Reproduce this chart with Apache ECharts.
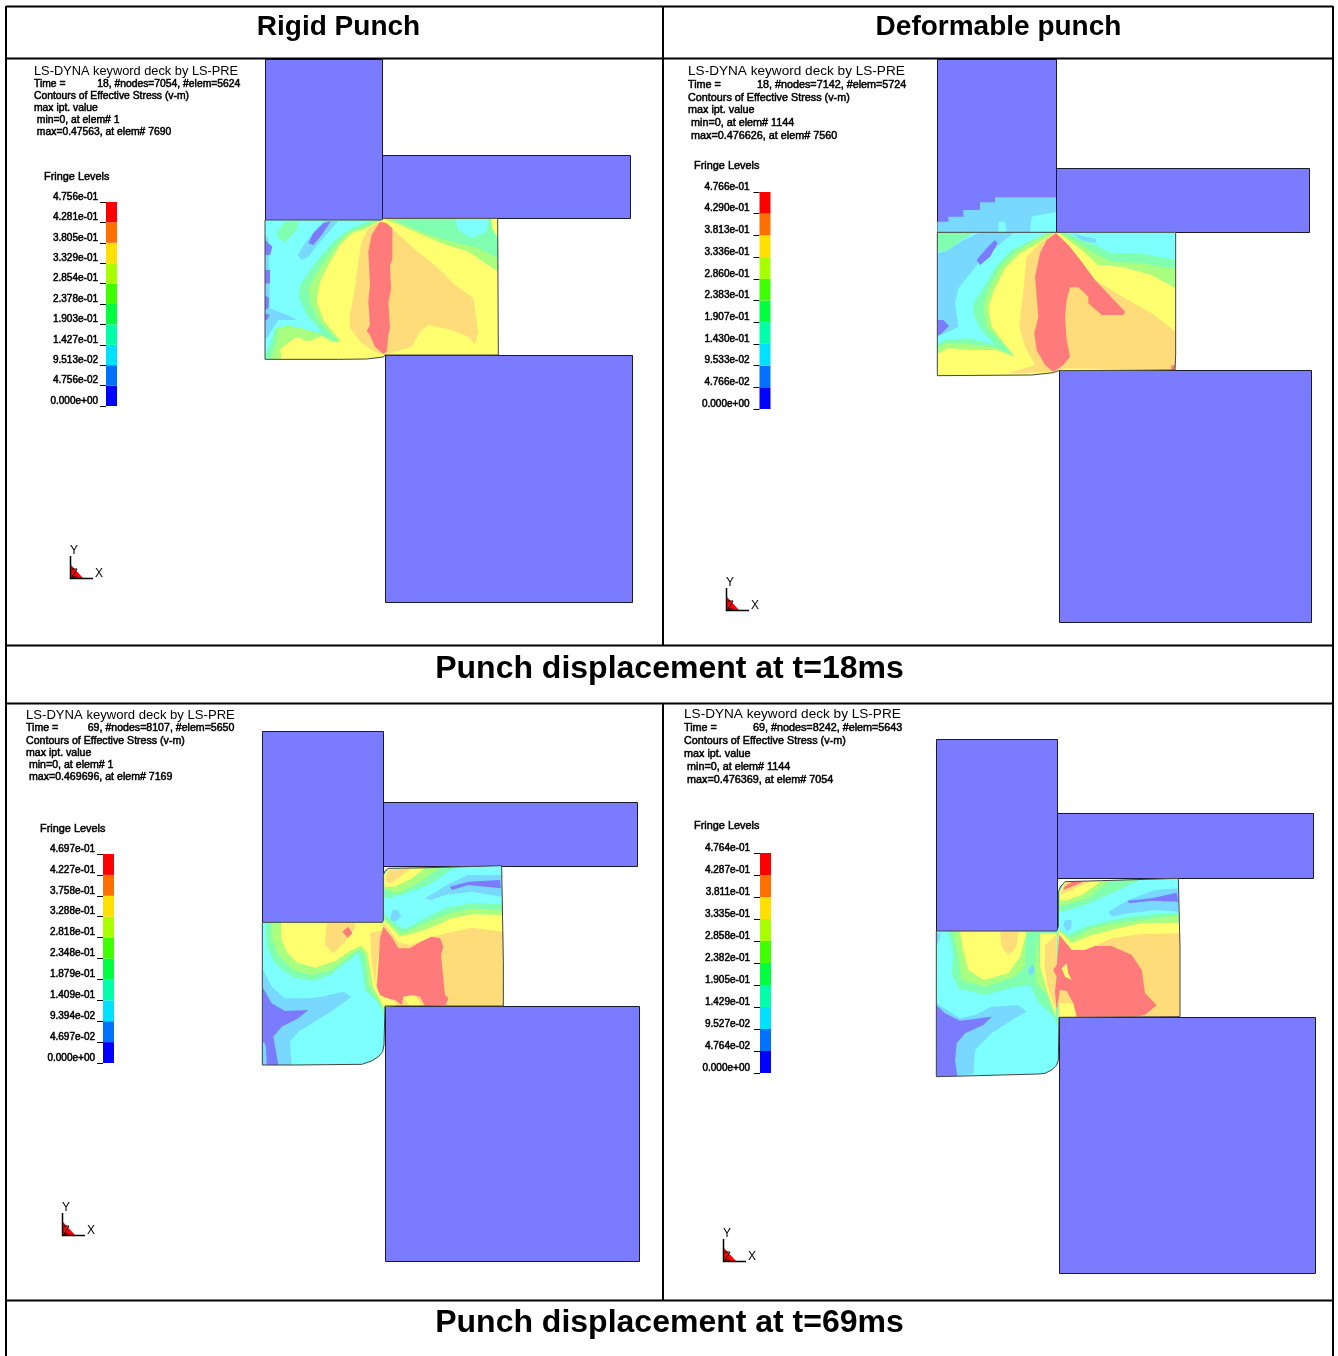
<!DOCTYPE html>
<html><head><meta charset="utf-8">
<style>html,body{margin:0;padding:0;background:#fff}#c{width:1338px;height:1356px}</style>
<script src="https://cdn.jsdelivr.net/npm/echarts@6/dist/echarts.min.js"></script>
</head><body><div id="c"></div>
<script>
// Fringe level bar colours and washed-out contour colours
const fringeColors=['#0000ff','#0070ff','#00e0ff','#00ffa8','#00ff40','#40ff00','#a8ff00','#ffe000','#ff7000','#ff0000'];
const LILAC=0,LBLUE=1,CYAN=2,MINT=3,LGREEN=4,YELLOW=5,PEACH=6,CORAL=7;
const contourColors=['#7b7bff','#78d8ff','#7dffff','#80ffb0','#a8ff80','#ffff70','#ffdc7a','#ff7a7a'];

const headings=['Rigid Punch','Deformable punch'];
const captions=['Punch displacement at t=18ms','Punch displacement at t=69ms'];

const ticksA=[0,0.04756,0.09513,0.1427,0.1903,0.2378,0.2854,0.3329,0.3805,0.4281,0.4756];
const ticksB=[0,0.04766,0.09533,0.1430,0.1907,0.2383,0.2860,0.3336,0.3813,0.4290,0.4766];
const ticksC=[0,0.04697,0.09394,0.1409,0.1879,0.2348,0.2818,0.3288,0.3758,0.4227,0.4697];
const ticksD=[0,0.04764,0.09527,0.1429,0.1905,0.2382,0.2858,0.3335,0.3811,0.4287,0.4764];

const infoA=['LS-DYNA keyword deck by LS-PRE','Time =           18, #nodes=7054, #elem=5624','Contours of Effective Stress (v-m)','max ipt. value',' min=0, at elem# 1',' max=0.47563, at elem# 7690'];
const infoB=['LS-DYNA keyword deck by LS-PRE','Time =            18, #nodes=7142, #elem=5724','Contours of Effective Stress (v-m)','max ipt. value',' min=0, at elem# 1144',' max=0.476626, at elem# 7560'];
const infoC=['LS-DYNA keyword deck by LS-PRE','Time =          69, #nodes=8107, #elem=5650','Contours of Effective Stress (v-m)','max ipt. value',' min=0, at elem# 1',' max=0.469696, at elem# 7169'];
const infoD=['LS-DYNA keyword deck by LS-PRE','Time =            69, #nodes=8242, #elem=5643','Contours of Effective Stress (v-m)','max ipt. value',' min=0, at elem# 1144',' max=0.476369, at elem# 7054'];

// Tool blocks: [x0,y0,x1,y1] on the sheet
const blocks=[
 [265,59,382,220],[382,155,630,218],[385,355,632,602],
 [937,59,1056,232],[1056,168,1309,232],[1059,370,1311,622],
 [262,731,383,922],[383,802,637,866],[385,1006,639,1261],
 [936,739,1057,931],[1057,813,1313,878],[1059,1017,1315,1273]];
const triadOrigins=[[70,578],[726,610],[62,1235],[723,1261]];

// Contour regions: [level, points...] painted in order
const outlineA=[[30,45],[380,45],[385,40],[728,40],[730,450],[390,450],[385,456],[335,462],[250,463],[30,463]];
const patchA=[
 [YELLOW,outlineA],
 [LGREEN,[[30,45],[380,45],[330,72],[290,85],[255,120],[225,170],[195,230],[185,290],[205,345],[258,410],[230,412],[200,393],[160,410],[125,395],[75,432],[80,461],[30,463]]],
 [MINT,[[30,45],[375,45],[320,68],[280,82],[245,118],[210,165],[178,215],[160,250],[165,290],[190,345],[250,410],[205,392],[140,370],[100,362],[70,365],[62,420],[50,450],[52,460],[30,463]]],
 [CYAN,[[30,45],[345,48],[290,70],[240,105],[200,150],[165,195],[135,240],[130,270],[155,330],[205,385],[140,370],[100,362],[60,370],[45,420],[30,450]]],
 [MINT,[[65,85],[90,50],[130,50],[125,75],[90,112],[70,100]]],
 [LBLUE,[[30,90],[40,100],[44,250],[44,310],[110,335],[125,345],[70,345],[35,400],[30,400]]],
 [LBLUE,[[128,150],[150,115],[185,70],[210,48],[250,48],[195,110],[160,155],[140,165]]],
 [LILAC,[[160,115],[175,85],[205,55],[228,48],[200,90],[175,120]]],
 [LILAC,[[30,105],[52,125],[45,150],[30,150]]],
 [LILAC,[[30,195],[45,195],[45,235],[30,235]]],
 [LILAC,[[30,270],[42,280],[40,310],[30,315]]],
 [LILAC,[[30,325],[45,330],[35,345],[30,345]]],
 [LGREEN,[[390,42],[728,42],[730,200],[640,140],[560,115],[470,75]]],
 [MINT,[[410,42],[728,42],[730,160],[660,125],[590,110],[510,85],[440,55]]],
 [CYAN,[[600,42],[700,42],[695,80],[650,100],[610,75]]],
 [YELLOW,[[708,42],[728,42],[728,100],[712,70]]],
 [PEACH,[[385,50],[415,75],[445,100],[470,125],[500,150],[540,180],[600,240],[655,280],[665,345],[670,380],[660,418],[640,395],[590,375],[520,360],[495,380],[470,425],[390,450],[360,440],[320,415],[285,370],[285,330],[300,250],[310,170],[320,110],[340,70],[375,50]]],
 [CORAL,[[375,50],[395,55],[412,70],[412,165],[405,180],[408,255],[400,290],[405,370],[400,390],[395,440],[385,447],[360,425],[345,390],[335,378],[345,360],[340,290],[345,240],[340,140],[350,90]]]
];
const outlineB=[[37,97],[393,97],[752,97],[752,465],[750,510],[400,512],[385,518],[320,525],[37,527]];
const patchB=[
 [LBLUE,[[37,65],[70,65],[70,50],[115,50],[115,30],[165,30],[165,7],[210,7],[210,-8],[393,-8],[393,97],[37,97]]],
 [CYAN,[[220,95],[220,65],[240,65],[245,95]]],
 [CYAN,[[315,95],[320,50],[393,35],[393,95]]],
 [YELLOW,outlineB],
 [LGREEN,[[37,97],[393,97],[330,135],[285,160],[240,205],[205,275],[190,325],[200,380],[268,470],[215,450],[140,450],[70,445],[37,462]]],
 [MINT,[[37,97],[375,97],[320,125],[270,155],[225,200],[190,270],[175,320],[185,380],[268,468],[210,440],[110,430],[60,430],[37,445]]],
 [CYAN,[[150,97],[370,97],[310,125],[260,150],[215,195],[175,265],[145,310],[145,340],[165,385],[210,435],[130,415],[60,420],[37,435],[37,155],[70,150],[110,120]]],
 [LBLUE,[[37,160],[70,150],[115,120],[160,100],[265,100],[215,140],[160,190],[100,265],[90,310],[100,380],[70,395],[37,410]]],
 [LILAC,[[37,360],[55,360],[72,378],[50,400],[37,408]]],
 [LILAC,[[155,180],[185,145],[210,120],[218,130],[195,170],[165,195]]],
 [LGREEN,[[400,97],[752,97],[752,265],[680,225],[590,200],[520,195],[470,150]]],
 [MINT,[[405,97],[752,97],[752,208],[650,190],[560,185],[510,160],[455,125]]],
 [CYAN,[[410,97],[752,97],[752,180],[650,160],[560,160],[500,130],[440,105]]],
 [LBLUE,[[440,100],[515,118],[510,130],[470,120]]],
 [PEACH,[[395,100],[420,130],[470,195],[510,240],[600,295],[680,340],[752,395],[752,465],[750,510],[420,505],[385,515],[250,520],[330,495],[300,440],[283,380],[295,270],[305,170],[345,130],[385,100]]],
 [CORAL,[[393,100],[430,135],[470,185],[510,240],[600,335],[595,345],[530,345],[490,310],[490,290],[460,262],[435,262],[425,300],[420,350],[425,420],[435,470],[415,495],[385,515],[360,495],[335,450],[328,400],[340,350],[330,230],[345,160],[365,120]]],
 [CORAL,[[738,497],[750,495],[750,510],[740,510]]]
];
const outlineC=[[22,202],[382,202],[385,195],[385,60],[390,48],[400,40],[520,38],[740,32],[745,320],[745,453],[390,453],[387,570],[383,590],[370,605],[350,618],[320,628],[120,630],[22,630]];
const patchC=[
 [CYAN,outlineC],
 [MINT,[[388,128],[388,60],[400,42],[600,35],[520,90],[440,120],[400,128]]],
 [LGREEN,[[388,105],[388,60],[400,42],[555,38],[495,80],[430,115]]],
 [YELLOW,[[388,95],[388,60],[400,42],[510,40],[470,70],[420,95]]],
 [PEACH,[[390,75],[400,45],[470,40],[430,70],[405,85]]],
 [LBLUE,[[510,130],[585,85],[640,60],[740,60],[740,125],[650,110],[570,120],[530,135]]],
 [LILAC,[[585,95],[640,80],[735,75],[738,100],[640,90],[590,105]]],
 [LBLUE,[[405,195],[412,165],[430,165],[438,185],[420,200]]],
 [MINT,[[388,175],[425,210],[450,222],[510,190],[570,160],[650,143],[742,148],[745,453],[388,453]]],
 [LGREEN,[[388,190],[440,235],[510,205],[580,175],[650,160],[742,165],[745,453],[388,453]]],
 [YELLOW,[[388,195],[435,245],[510,225],[590,190],[650,178],[743,180],[745,453],[388,453]]],
 [PEACH,[[388,205],[430,262],[465,270],[530,245],[650,218],[745,230],[745,453],[380,453]]],
 [MINT,[[32,202],[385,202],[388,485],[372,445],[330,405],[320,330],[310,295],[270,325],[225,360],[170,378],[110,365],[60,325],[35,275]]],
 [LGREEN,[[52,202],[385,202],[388,470],[372,440],[340,390],[330,300],[312,282],[275,310],[230,345],[170,360],[115,345],[70,300],[48,245]]],
 [YELLOW,[[78,202],[385,202],[388,453],[378,440],[352,390],[345,340],[335,290],[318,272],[285,288],[240,318],[180,338],[125,322],[95,290],[78,250]]],
 [PEACH,[[215,205],[300,205],[300,220],[270,260],[235,295],[210,270]]],
 [PEACH,[[345,235],[380,225],[365,330],[360,390],[350,320]]],
 [CORAL,[[262,230],[280,215],[292,235],[278,248]]],
 [CORAL,[[385,215],[410,245],[430,280],[465,280],[495,262],[530,245],[555,250],[565,275],[558,300],[570,420],[580,430],[572,450],[510,453],[495,425],[470,420],[445,425],[440,450],[420,435],[395,430],[375,420],[365,395],[370,330],[375,250]]],
 [YELLOW,[[445,425],[480,422],[500,450],[465,453]]],
 [YELLOW,[[380,435],[395,428],[420,440],[425,453],[385,455]]],
 [LBLUE,[[22,340],[50,395],[90,430],[160,430],[200,425],[265,410],[290,425],[235,465],[130,530],[105,560],[110,630],[60,630],[22,630]]],
 [LILAC,[[22,395],[50,445],[90,468],[160,465],[130,490],[80,515],[55,545],[70,630],[35,630],[30,565],[22,560]]],
 [LBLUE,[[22,565],[33,575],[35,620],[22,620]]]
];
const outlineD=[[34,183],[395,183],[400,170],[400,65],[408,48],[420,35],[530,32],[760,25],[765,230],[765,440],[402,442],[400,570],[395,585],[380,600],[360,610],[340,612],[120,618],[34,620]];
const patchD=[
 [CYAN,outlineD],
 [MINT,[[402,125],[402,65],[420,36],[650,28],[560,70],[480,105],[410,125]]],
 [LGREEN,[[403,105],[403,65],[420,36],[555,30],[490,85],[420,105]]],
 [YELLOW,[[405,90],[405,65],[420,36],[530,32],[470,75],[420,92]]],
 [PEACH,[[405,75],[420,38],[500,33],[440,60]]],
 [CORAL,[[418,50],[440,36],[475,35],[440,50],[415,60]]],
 [LBLUE,[[550,125],[610,90],[690,60],[760,55],[760,125],[690,120],[610,130],[560,140]]],
 [LILAC,[[608,92],[680,85],[755,68],[760,95],[680,92],[612,100]]],
 [LBLUE,[[415,165],[420,150],[440,150],[438,175],[425,185]]],
 [MINT,[[400,175],[430,195],[480,170],[560,150],[650,135],[760,128],[765,440],[400,440]]],
 [LGREEN,[[400,180],[440,205],[500,175],[570,160],[650,150],[760,135],[765,440],[400,440]]],
 [YELLOW,[[400,180],[440,220],[500,195],[580,175],[650,160],[762,158],[765,440],[400,440]]],
 [PEACH,[[400,190],[440,240],[480,240],[560,205],[650,192],[765,190],[765,440],[400,440]]],
 [MINT,[[70,185],[400,185],[400,470],[385,440],[340,395],[315,345],[270,350],[180,375],[100,355],[80,310],[85,250]]],
 [LGREEN,[[85,185],[335,185],[345,290],[370,380],[390,440],[365,375],[335,340],[325,260],[270,320],[180,350],[110,330],[100,260]]],
 [MINT,[[305,185],[335,185],[330,280],[335,345],[305,330],[300,260]]],
 [LBLUE,[[310,295],[325,285],[328,305],[315,318]]],
 [YELLOW,[[105,185],[305,185],[285,260],[250,310],[175,330],[130,300],[115,240]]],
 [PEACH,[[225,185],[280,185],[275,230],[250,255],[230,230]]],
 [YELLOW,[[345,190],[395,190],[392,440],[370,375],[345,290]]],
 [PEACH,[[360,225],[395,195],[392,420],[368,350],[360,300]]],
 [CORAL,[[403,195],[440,240],[480,240],[510,228],[560,228],[620,255],[650,300],[660,370],[695,405],[660,435],[630,440],[455,440],[440,395],[405,360],[395,420],[390,365],[395,320],[385,300],[395,285]]],
 [YELLOW,[[410,295],[425,280],[430,310],[440,330],[420,320]]],
 [PEACH,[[403,360],[425,362],[445,400],[415,400]]],
 [YELLOW,[[405,400],[445,400],[455,440],[405,440]]],
 [LBLUE,[[34,190],[48,190],[40,220],[34,222]]],
 [LBLUE,[[34,400],[105,445],[150,435],[200,410],[280,405],[305,425],[260,450],[200,490],[150,540],[145,612],[95,618],[34,620]]],
 [LILAC,[[34,405],[60,430],[105,452],[200,440],[175,465],[120,490],[95,520],[90,570],[97,618],[34,620]]]
];

const FONT='"Liberation Sans",Arial,sans-serif';
const grids=[],xAxes=[],yAxes=[],series=[],graphics=[];
function addGrid(rect,xr,yr,yInv){
  const i=grids.length;
  grids.push({left:rect[0],top:rect[1],width:rect[2],height:rect[3]});
  xAxes.push({type:'value',gridIndex:i,min:xr[0],max:xr[1],show:false});
  yAxes.push({type:'value',gridIndex:i,min:yr[0],max:yr[1],inverse:!!yInv,show:false});
  return i;
}
// main sheet
const sheet=addGrid([0,0,1338,1356],[0,1338],[0,1356],true);
series.push({type:'custom',xAxisIndex:sheet,yAxisIndex:sheet,z:2,silent:true,clip:false,
  data:blocks.map(b=>b.slice()),
  encode:{x:[0,2],y:[1,3]},
  renderItem(p,api){
    const a=api.coord([api.value(0),api.value(1)]),b=api.coord([api.value(2),api.value(3)]);
    return {type:'rect',shape:{x:a[0]+.5,y:a[1]+.5,width:b[0]-a[0],height:b[1]-a[1]},style:{fill:contourColors[LILAC],stroke:'#1a1a2e',lineWidth:1}};
  }});
// triads
series.push({type:'custom',xAxisIndex:sheet,yAxisIndex:sheet,z:2,silent:true,clip:false,
  data:triadOrigins.map(o=>o.slice()),
  encode:{x:0,y:1},
  renderItem(p,api){
    const ox=api.value(0),oy=api.value(1);
    const c=(dx,dy)=>api.coord([ox+dx,oy+dy]);
    return {type:'group',children:[
      {type:'polygon',shape:{points:[c(0,-14),c(13,0),c(0,0)]},style:{fill:'#ff0000'}},
      {type:'polyline',shape:{points:[c(2,-9),c(7,-9),c(2,-1),c(7,-1)]},style:{stroke:'#000',fill:'none',lineWidth:1}},
      {type:'polyline',shape:{points:[c(.5,-22),c(.5,.5),c(23,.5)]},style:{stroke:'#000',fill:'none',lineWidth:1.5}}
    ]};
  }});
// contour patches
function addPatch(rect,xr,yr,patch,outline){
  const g=addGrid(rect,xr,yr,true);
  series.push({type:'custom',xAxisIndex:g,yAxisIndex:g,z:3,silent:true,clip:false,
    data:patch.map((r,i)=>[i]),encode:{x:0,y:0},
    renderItem(p,api){
      const r=patch[api.value(0)];
      return {type:'polygon',shape:{points:r[1].map(q=>api.coord(q))},style:{fill:contourColors[r[0]]}};
    }});
  series.push({type:'custom',xAxisIndex:g,yAxisIndex:g,z:4,silent:true,clip:false,
    data:[[0]],encode:{x:0,y:0},
    renderItem(p,api){
      return {type:'polygon',shape:{points:outline.map(q=>api.coord(q))},style:{fill:'none',stroke:'#444',lineWidth:1}};
    }});
}
addPatch([255,205,260,170],[0,780],[0,510],patchA,outlineA);
addPatch([925,170,270,220],[0,810],[-90,570],patchB,outlineB);
addPatch([255,855,260,220],[0,780],[0,660],patchC,outlineC);
addPatch([925,870,265,215],[0,795],[0,645],patchD,outlineD);

// fringe legends with real value axes
function fmtTick(v){
  const s=Number(v).toExponential(3);
  return s.replace(/e([+-])(\d)$/,'e$10$2');
}
function addLegend(rect,ticks,margin){
  const i=grids.length;
  grids.push({left:rect[0],top:rect[1],width:rect[2],height:rect[3]});
  xAxes.push({type:'value',gridIndex:i,min:0,max:1,show:false});
  yAxes.push({type:'value',gridIndex:i,min:0,max:ticks[10],position:'left',splitLine:{show:false},
    axisLine:{show:false},
    axisTick:{show:true,length:6,customValues:ticks,lineStyle:{color:'#000',width:1}},
    axisLabel:{show:true,customValues:ticks,margin:margin,color:'#000',fontFamily:FONT,fontSize:10,verticalAlign:'bottom',
      textBorderColor:'#000',textBorderWidth:.5,formatter:v=>fmtTick(v),showMinLabel:true,showMaxLabel:true}});
  const bands=fringeColors.map((c,k)=>[ticks[k],ticks[k+1],k]);
  series.push({type:'custom',xAxisIndex:i,yAxisIndex:i,z:3,silent:true,clip:false,
    data:bands,encode:{y:[0,1]},
    renderItem(p,api){
      const a=api.coord([0,api.value(1)]),b=api.coord([1,api.value(0)]);
      return {type:'rect',shape:{x:a[0],y:a[1],width:b[0]-a[0],height:b[1]-a[1]},style:{fill:fringeColors[api.value(2)]}};
    }});
}
addLegend([106,202,11,204],ticksA,8);
addLegend([759.5,192,11,217],ticksB,10);
addLegend([103,854,11,209],ticksC,8);
addLegend([760,853,11,220],ticksD,10);

// text
function txt(text,x,y,size,opt){
  opt=opt||{};
  graphics.push({type:'text',z:20,silent:true,style:Object.assign({text,x,y,fontFamily:FONT,fontSize:size,fill:'#000',verticalAlign:'middle',align:'left'},opt)});
}
const heavy={stroke:'#000',lineWidth:.5};
function info(lines,x,ys,size0,size1){
  lines.forEach((l,i)=>txt(l,x,ys[i],i?size1:size0,i?heavy:{}));
}
info(infoA,34,[71,84,96.5,108.5,120,132],12.8,10.35);
info(infoB,688,[71,85,98,110,123,136],13.6,10.8);
info(infoC,26,[715,728,741,753,765,777],13.1,10.6);
info(infoD,684,[714,728,741,754,767,780],13.6,10.8);
txt('Fringe Levels',44,176.5,10.9,heavy);
txt('Fringe Levels',694,165.5,10.9,heavy);
txt('Fringe Levels',40,828.5,10.9,heavy);
txt('Fringe Levels',694,825.5,10.9,heavy);
triadOrigins.forEach(o=>{
  txt('Y',o[0]+4,o[1]-27,12,{align:'center'});
  txt('X',o[0]+29,o[1]-4,12,{align:'center'});
});
txt(headings[0],338.5,27,28,{fontWeight:'bold',align:'center'});
txt(headings[1],998.5,27,28,{fontWeight:'bold',align:'center'});
txt(captions[0],669.5,669,32,{fontWeight:'bold',align:'center'});
txt(captions[1],669.5,1323,32,{fontWeight:'bold',align:'center'});

// table frame
const frame=[[6,6.5,1333,6.5],[6,58.5,1333,58.5],[6,645.5,1333,645.5],[6,703.5,1333,703.5],[6,1300.5,1333,1300.5],
 [6,6,6,1356],[1333,6,1333,1356],[663,6,663,645],[663,703,663,1300]];
frame.forEach(f=>graphics.push({type:'line',z:19,silent:true,shape:{x1:f[0],y1:f[1],x2:f[2],y2:f[3]},style:{stroke:'#000',lineWidth:2}}));

const chart=echarts.init(document.getElementById('c'),null,{renderer:'canvas'});
chart.setOption({animation:false,backgroundColor:'#fff',tooltip:{show:false},
  grid:grids,xAxis:xAxes,yAxis:yAxes,series,graphic:graphics});
</script></body></html>
